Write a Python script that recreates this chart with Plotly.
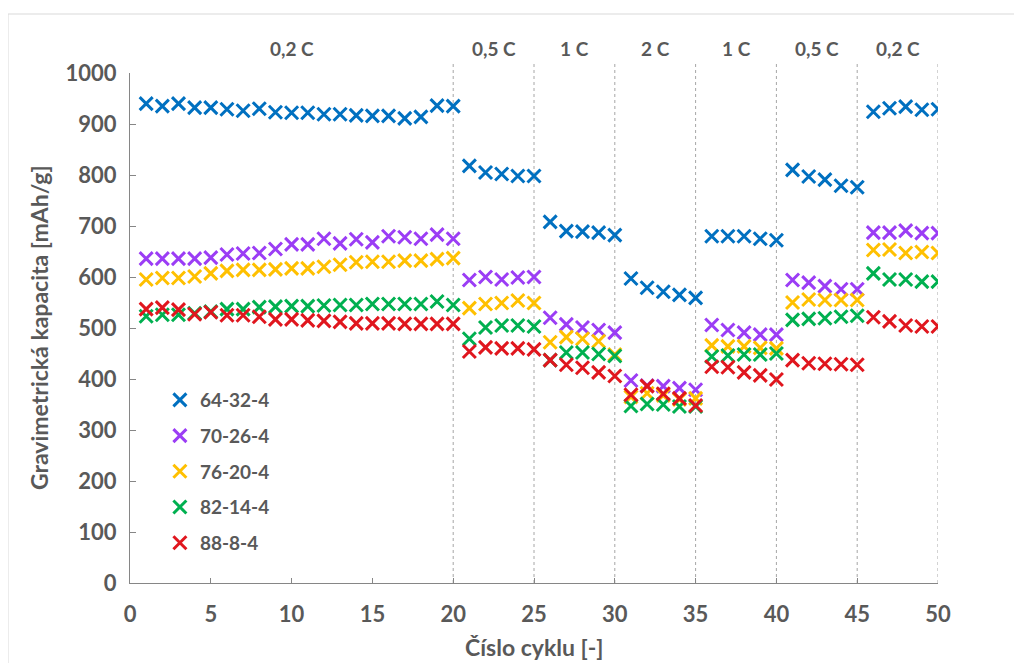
import plotly.graph_objects as go

cycles = list(range(1, 51))

cap_64_32_4 = [940, 935, 940, 932, 932, 929, 926, 930, 923, 922, 922, 919, 919, 917, 916, 916, 911, 914, 936, 935,
               818, 805, 802, 798, 798, 708, 690, 689, 687, 682, 597, 579, 571, 565, 559,
               680, 680, 680, 675, 672, 810, 797, 791, 779, 776, 924, 931, 934, 928, 929]
cap_70_26_4 = [636, 636, 636, 636, 638, 644, 646, 647, 655, 664, 664, 675, 666, 674, 668, 680, 678, 675, 683, 675,
               594, 600, 595, 599, 600, 520, 507, 501, 496, 491, 397, 387, 386, 382, 379,
               506, 496, 491, 487, 487, 594, 589, 582, 576, 576, 687, 687, 691, 686, 686]
cap_76_20_4 = [595, 598, 598, 601, 607, 612, 614, 614, 615, 617, 617, 620, 624, 629, 630, 630, 632, 632, 635, 637,
               539, 547, 549, 554, 549, 472, 482, 479, 474, 448, 365, 372, 368, 360, 362,
               466, 464, 464, 461, 460, 550, 556, 555, 555, 555, 653, 654, 647, 649, 647]
cap_82_14_4 = [523, 526, 526, 529, 532, 537, 537, 541, 542, 543, 543, 544, 545, 545, 547, 547, 547, 547, 552, 545,
               479, 501, 505, 505, 503, 437, 452, 452, 449, 445, 347, 351, 350, 346, 346,
               444, 446, 448, 448, 450, 516, 518, 519, 522, 524, 607, 595, 595, 591, 591]
cap_88_8_4 = [537, 540, 536, 527, 531, 525, 525, 522, 517, 517, 515, 514, 512, 509, 509, 509, 508, 508, 508, 508,
              454, 462, 460, 460, 458, 437, 428, 422, 413, 406, 369, 386, 371, 362, 348,
              424, 423, 413, 407, 399, 437, 431, 430, 429, 428, 521, 513, 505, 503, 503]

series_names = ["64-32-4", "70-26-4", "76-20-4", "82-14-4", "88-8-4"]
series_values = [cap_64_32_4, cap_70_26_4, cap_76_20_4, cap_82_14_4, cap_88_8_4]
series_colors = ["#0070C0", "#9B3DF5", "#FFC000", "#00B050", "#E0161E"]

segment_bounds = [0, 20, 25, 30, 35, 40, 45, 50]
rate_labels = ["0,2 C", "0,5 C", "1 C", "2 C", "1 C", "0,5 C", "0,2 C"]

TXT = "#595959"
FONT = "Lato"

fig = go.Figure()
for name, vals, col in zip(series_names, series_values, series_colors):
    fig.add_trace(go.Scatter(
        x=cycles, y=vals, mode="markers", name=name, legendgroup=name,
        marker=dict(symbol="x-thin", size=13, color=col, line=dict(width=3, color=col)),
    ))

shapes = []
for b in segment_bounds[1:]:
    shapes.append(dict(type="line", xref="x", yref="paper", x0=b, x1=b, y0=0, y1=1.02,
                       line=dict(color="#A6A6A6", width=1, dash="dot"), layer="below"))
# chart border (page pixels -> plot-area fractions; plot area spans x 130..938, y 73..583)
shapes.append(dict(type="rect", xref="paper", yref="paper",
                   x0=(8 - 130) / 808, x1=(1040 - 130) / 808, y0=(583 - 700) / 510, y1=(583 - 14) / 510,
                   line=dict(color="#D9D9D9", width=1), fillcolor="rgba(0,0,0,0)", layer="below"))

annotations = []
for i, lab in enumerate(rate_labels):
    xc = (segment_bounds[i] + segment_bounds[i + 1]) / 2
    annotations.append(dict(x=xc, y=1.049, xref="x", yref="paper", text=lab, showarrow=False,
                            font=dict(family=FONT, size=19, color=TXT, weight="bold"),
                            xanchor="center", yanchor="middle"))
annotations.append(dict(x=(39 - 130) / 808, y=0.5, xref="paper", yref="paper",
                        text="Gravimetrická kapacita [mAh/g]", textangle=-90, showarrow=False,
                        font=dict(family=FONT, size=23, color=TXT, weight="bold"),
                        xanchor="center", yanchor="middle"))
annotations.append(dict(x=0.5, y=(583 - 647) / 510, xref="paper", yref="paper",
                        text="Číslo cyklu [-]", showarrow=False,
                        font=dict(family=FONT, size=23, color=TXT, weight="bold"),
                        xanchor="center", yanchor="middle"))

# body has an 8px margin: plot area lands at page x 130..938, y 73..583
fig.update_layout(
    width=1006, height=655,
    margin=dict(l=122, r=76, t=65, b=80),
    paper_bgcolor="white", plot_bgcolor="white",
    showlegend=True,
    legend=dict(x=0.037, y=0.396, xanchor="left", yanchor="top",
                font=dict(family=FONT, size=19, color=TXT, weight="bold"),
                bgcolor="rgba(0,0,0,0)", itemwidth=30, tracegroupgap=8),
    shapes=shapes, annotations=annotations,
    xaxis=dict(range=[0, 50], tick0=0, dtick=5, showgrid=False, zeroline=False,
               showline=True, linecolor="#868686", linewidth=1,
               ticks="inside", ticklen=5, tickcolor="#868686",
               tickfont=dict(family=FONT, size=22, color=TXT, weight="bold"),
               ticklabelstandoff=12),
    yaxis=dict(range=[0, 1000], tick0=0, dtick=100, showgrid=False, zeroline=False,
               showline=True, linecolor="#868686", linewidth=1,
               ticks="inside", ticklen=6, tickcolor="#868686",
               tickfont=dict(family=FONT, size=22, color=TXT, weight="bold"),
               ticklabelstandoff=8),
)

fig.write_html("out.html")
